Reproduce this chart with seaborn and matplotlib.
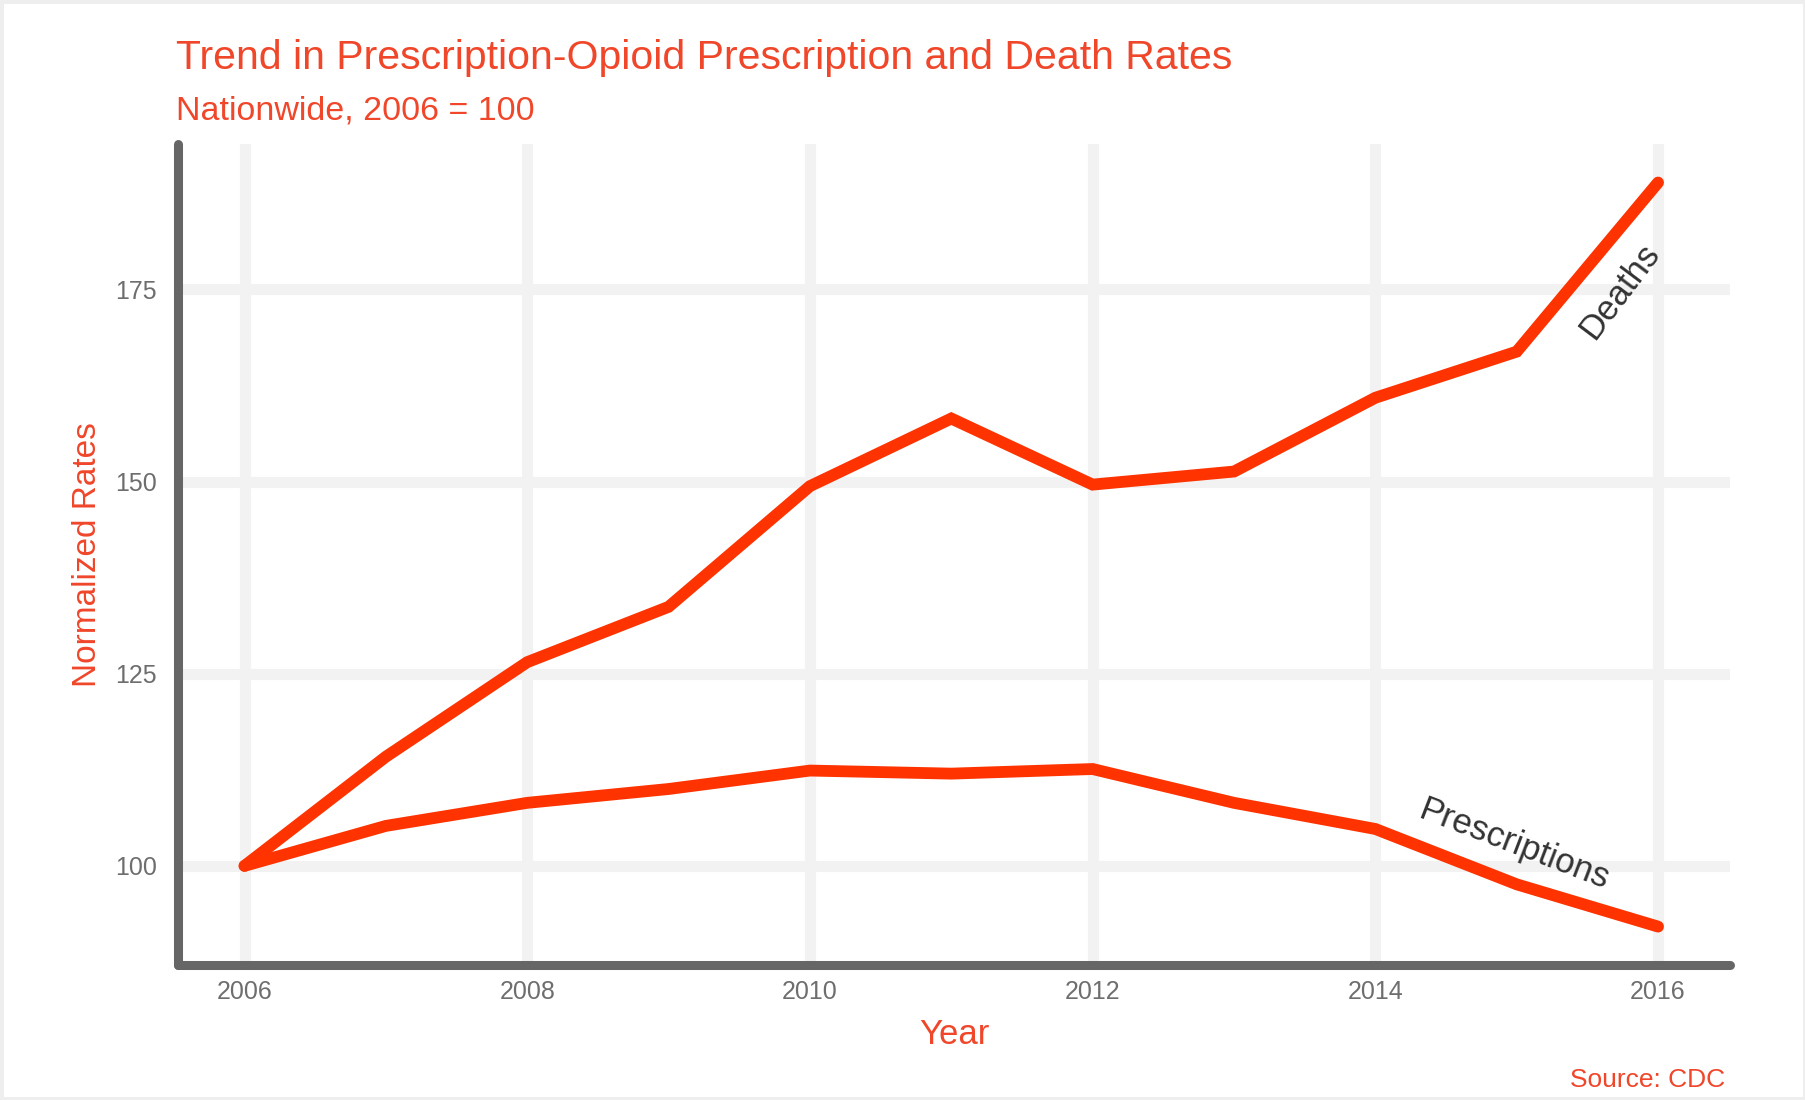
import matplotlib
matplotlib.use("Agg")
import matplotlib.pyplot as plt
import seaborn as sns
import pandas as pd
from matplotlib.patches import Rectangle

years = [2006, 2007, 2008, 2009, 2010, 2011, 2012, 2013, 2014, 2015, 2016]
deaths = [100, 114.2, 126.5, 133.7, 149.4, 158.2, 149.6, 151.3, 160.9, 166.9, 188.9]
prescriptions = [100, 105.2, 108.2, 110.0, 112.4, 112.0, 112.6, 108.2, 104.8, 97.6, 92.1]
series_names = ["Deaths", "Prescriptions"]
x_ticks = [2006, 2008, 2010, 2012, 2014, 2016]
y_ticks = [100, 125, 150, 175]

df = pd.DataFrame({
    "Year": years * 2,
    "Rate": deaths + prescriptions,
    "Series": [series_names[0]] * len(years) + [series_names[1]] * len(years),
})

sns.set_style("white")
plt.rcParams["font.family"] = ["Liberation Sans", "DejaVu Sans"]

LINE = "#FF3300"
TXT = "#F0462A"
SPINE = "#666666"
GRID = "#F2F2F2"
TICK = "#6E6E6E"

fig = plt.figure(figsize=(18.06, 11), dpi=100)
ax = fig.add_axes([0.0986, 0.1227, 0.8594, 0.7463])

ax.grid(True, color=GRID, linewidth=8)
ax.set_axisbelow(True)

sns.lineplot(data=df, x="Year", y="Rate", hue="Series",
             palette={series_names[0]: LINE, series_names[1]: LINE},
             linewidth=8.5, legend=False, ax=ax, solid_capstyle="round",
             solid_joinstyle="miter")

ax.set_xlim(2005.53, 2016.51)
ax.set_ylim(87.1, 193.9)
ax.set_xticks(x_ticks)
ax.set_yticks(y_ticks)
ax.tick_params(axis="both", length=0, labelsize=18, labelcolor=TICK)
ax.tick_params(axis="x", pad=11)
ax.tick_params(axis="y", pad=15)

for s in ["top", "right"]:
    ax.spines[s].set_visible(False)
for s in ["left", "bottom"]:
    ax.spines[s].set_color(SPINE)
    ax.spines[s].set_linewidth(6.5)
    ax.spines[s].set_capstyle("round")

ax.set_xlabel("Year", color=TXT, fontsize=25, labelpad=10)
ax.set_ylabel("Normalized Rates", color=TXT, fontsize=24, labelpad=9)

ax.text(2015.73, 174.7, "Deaths", rotation=53, color="#333333", fontsize=25,
        ha="center", va="center", rotation_mode="anchor")
ax.text(2014.98, 102.8, "Prescriptions", rotation=-21, color="#333333", fontsize=25,
        ha="center", va="center", rotation_mode="anchor")

fig.text(0.0975, 0.947, "Trend in Prescription-Opioid Prescription and Death Rates",
         color=TXT, fontsize=29.5, ha="left", va="center")
fig.text(0.0975, 0.8995, "Nationwide, 2006 = 100", color=TXT, fontsize=24.5,
         ha="left", va="center")
fig.text(0.955, 0.018, "Source: CDC", color=TXT, fontsize=19, ha="right", va="center")

fig.patches.append(Rectangle((0, 0), 1, 1, transform=fig.transFigure, fill=False,
                             edgecolor="#EEEEEE", linewidth=5))

fig.savefig("out.png", dpi=100)
